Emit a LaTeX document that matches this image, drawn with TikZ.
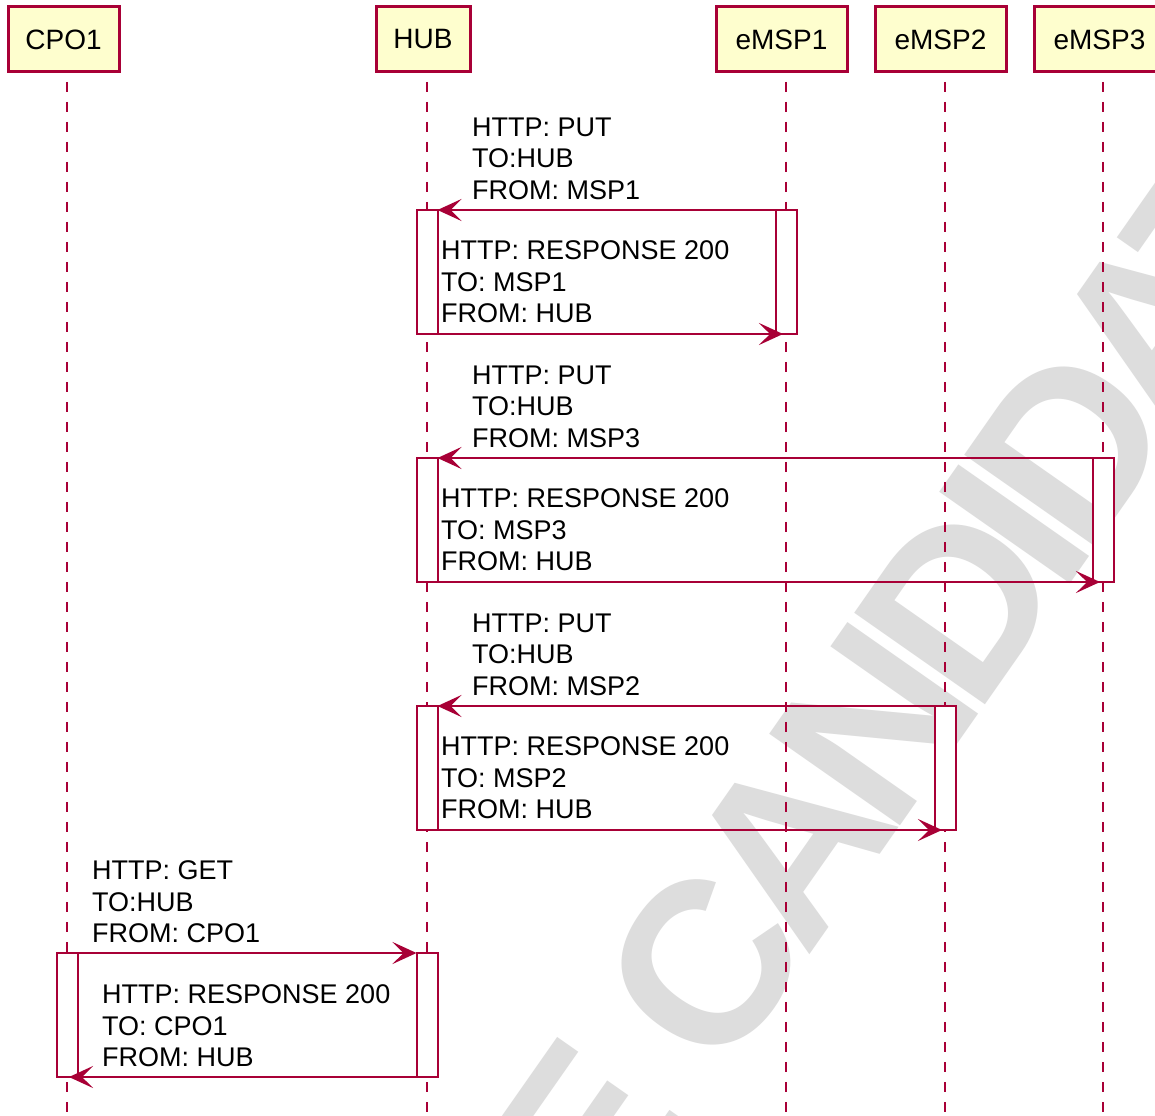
\documentclass[tikz,border=0pt]{standalone}
\usepackage{fontspec}
\setmainfont{Liberation Sans}
\newfontfamily\wmfont[LetterSpace=-8.5]{Liberation Sans}
\usetikzlibrary{arrows.meta,calc}
\definecolor{pumlred}{HTML}{A80036}
\definecolor{pumlfill}{HTML}{FEFECE}
\definecolor{wmgray}{RGB}{221,221,221}
\tikzset{
  participant/.style={draw=pumlred, fill=pumlfill, line width=3pt, minimum height=65pt,
    inner sep=0pt, outer sep=0pt, font=\fontsize{28}{32}\selectfont, text=black},
  lifeline/.style={draw=pumlred, line width=2pt, dash pattern=on 10pt off 10pt, dash phase=10pt},
  activation/.style={draw=pumlred, fill=white, line width=2pt, minimum width=21pt,
    minimum height=124pt, inner sep=0pt, outer sep=0pt},
  msg/.style={draw=pumlred, line width=2pt, -{Stealth[length=24pt,width=22pt,inset=11pt]}},
  msglabel/.style={anchor=north west, inner sep=0pt, align=left,
    font=\fontsize{27}{31.5}\selectfont, text=black},
  watermark/.style={text=wmgray, font=\wmfont\fontsize{232}{232}\selectfont\bfseries, inner sep=0pt}
}
\begin{document}
\begin{tikzpicture}[x=1pt,y=-1pt]
\useasboundingbox (0,0) rectangle (1155,1115);
\clip (0,0) rectangle (1155,1115);
\fill[white] (0,0) rectangle (1155,1115);

% watermark
\node[watermark, rotate=55, anchor=base west] (wm) at (607.5,1244.2) {E CANDIDATE};

% participants
\node[participant, minimum width=111pt] (cpo) at (63.5,39.5) {CPO1};
\node[participant, minimum width=94pt]  (hub) at (423,39.5) {HUB};
\node[participant, minimum width=131pt] (m1)  at (781.5,39.5) {eMSP1};
\node[participant, minimum width=131pt] (m2)  at (940.5,39.5) {eMSP2};
\node[participant, minimum width=131pt] (m3)  at (1099.5,39.5) {eMSP3};

% lifeline ends
\coordinate (lcpo) at (67,1125);
\coordinate (lhub) at (427,1125);
\coordinate (lm1)  at (786,1125);
\coordinate (lm2)  at (945,1125);
\coordinate (lm3)  at (1103,1125);

\draw[lifeline] (cpo.south -| lcpo) -- (lcpo);
\draw[lifeline] (hub.south -| lhub) -- (lhub);
\draw[lifeline] (m1.south -| lm1) -- (lm1);
\draw[lifeline] (m2.south -| lm2) -- (lm2);
\draw[lifeline] (m3.south -| lm3) -- (lm3);

% activations
\node[activation] (h1) at (427,272) {};
\node[activation] (e1) at (786,272) {};
\node[activation] (h2) at (427,520) {};
\node[activation] (e3) at (1103,520) {};
\node[activation] (h3) at (427,768) {};
\node[activation] (e2) at (945,768) {};
\node[activation] (c4) at (67,1015) {};
\node[activation] (h4) at (427,1015) {};

% messages
\draw[msg] (e1.north west) -- (h1.north east);
\draw[msg] (h1.south east) -- ($(e1.south)+(-3,0)$);
\draw[msg] (e3.north west) -- (h2.north east);
\draw[msg] (h2.south east) -- ($(e3.south)+(-3,0)$);
\draw[msg] (e2.north west) -- (h3.north east);
\draw[msg] (h3.south east) -- ($(e2.south)+(-3,0)$);
\draw[msg] (c4.north east) -- (h4.north west);
\draw[msg] (h4.south west) -- ($(c4.south)+(2,0)$);

% labels
\node[msglabel] (t1a) at (472,117.7) {HTTP: PUT\\TO:HUB\\FROM: MSP1};
\node[msglabel] (t1b) at (441,240.7) {HTTP: RESPONSE 200\\TO: MSP1\\FROM: HUB};
\node[msglabel] (t2a) at (472,365.7) {HTTP: PUT\\TO:HUB\\FROM: MSP3};
\node[msglabel] (t2b) at (441,488.7) {HTTP: RESPONSE 200\\TO: MSP3\\FROM: HUB};
\node[msglabel] (t3a) at (472,613.7) {HTTP: PUT\\TO:HUB\\FROM: MSP2};
\node[msglabel] (t3b) at (441,736.7) {HTTP: RESPONSE 200\\TO: MSP2\\FROM: HUB};
\node[msglabel] (t4a) at (92,860.7) {HTTP: GET\\TO:HUB\\FROM: CPO1};
\node[msglabel] (t4b) at (102,984.7) {HTTP: RESPONSE 200\\TO: CPO1\\FROM: HUB};
\end{tikzpicture}
\end{document}
